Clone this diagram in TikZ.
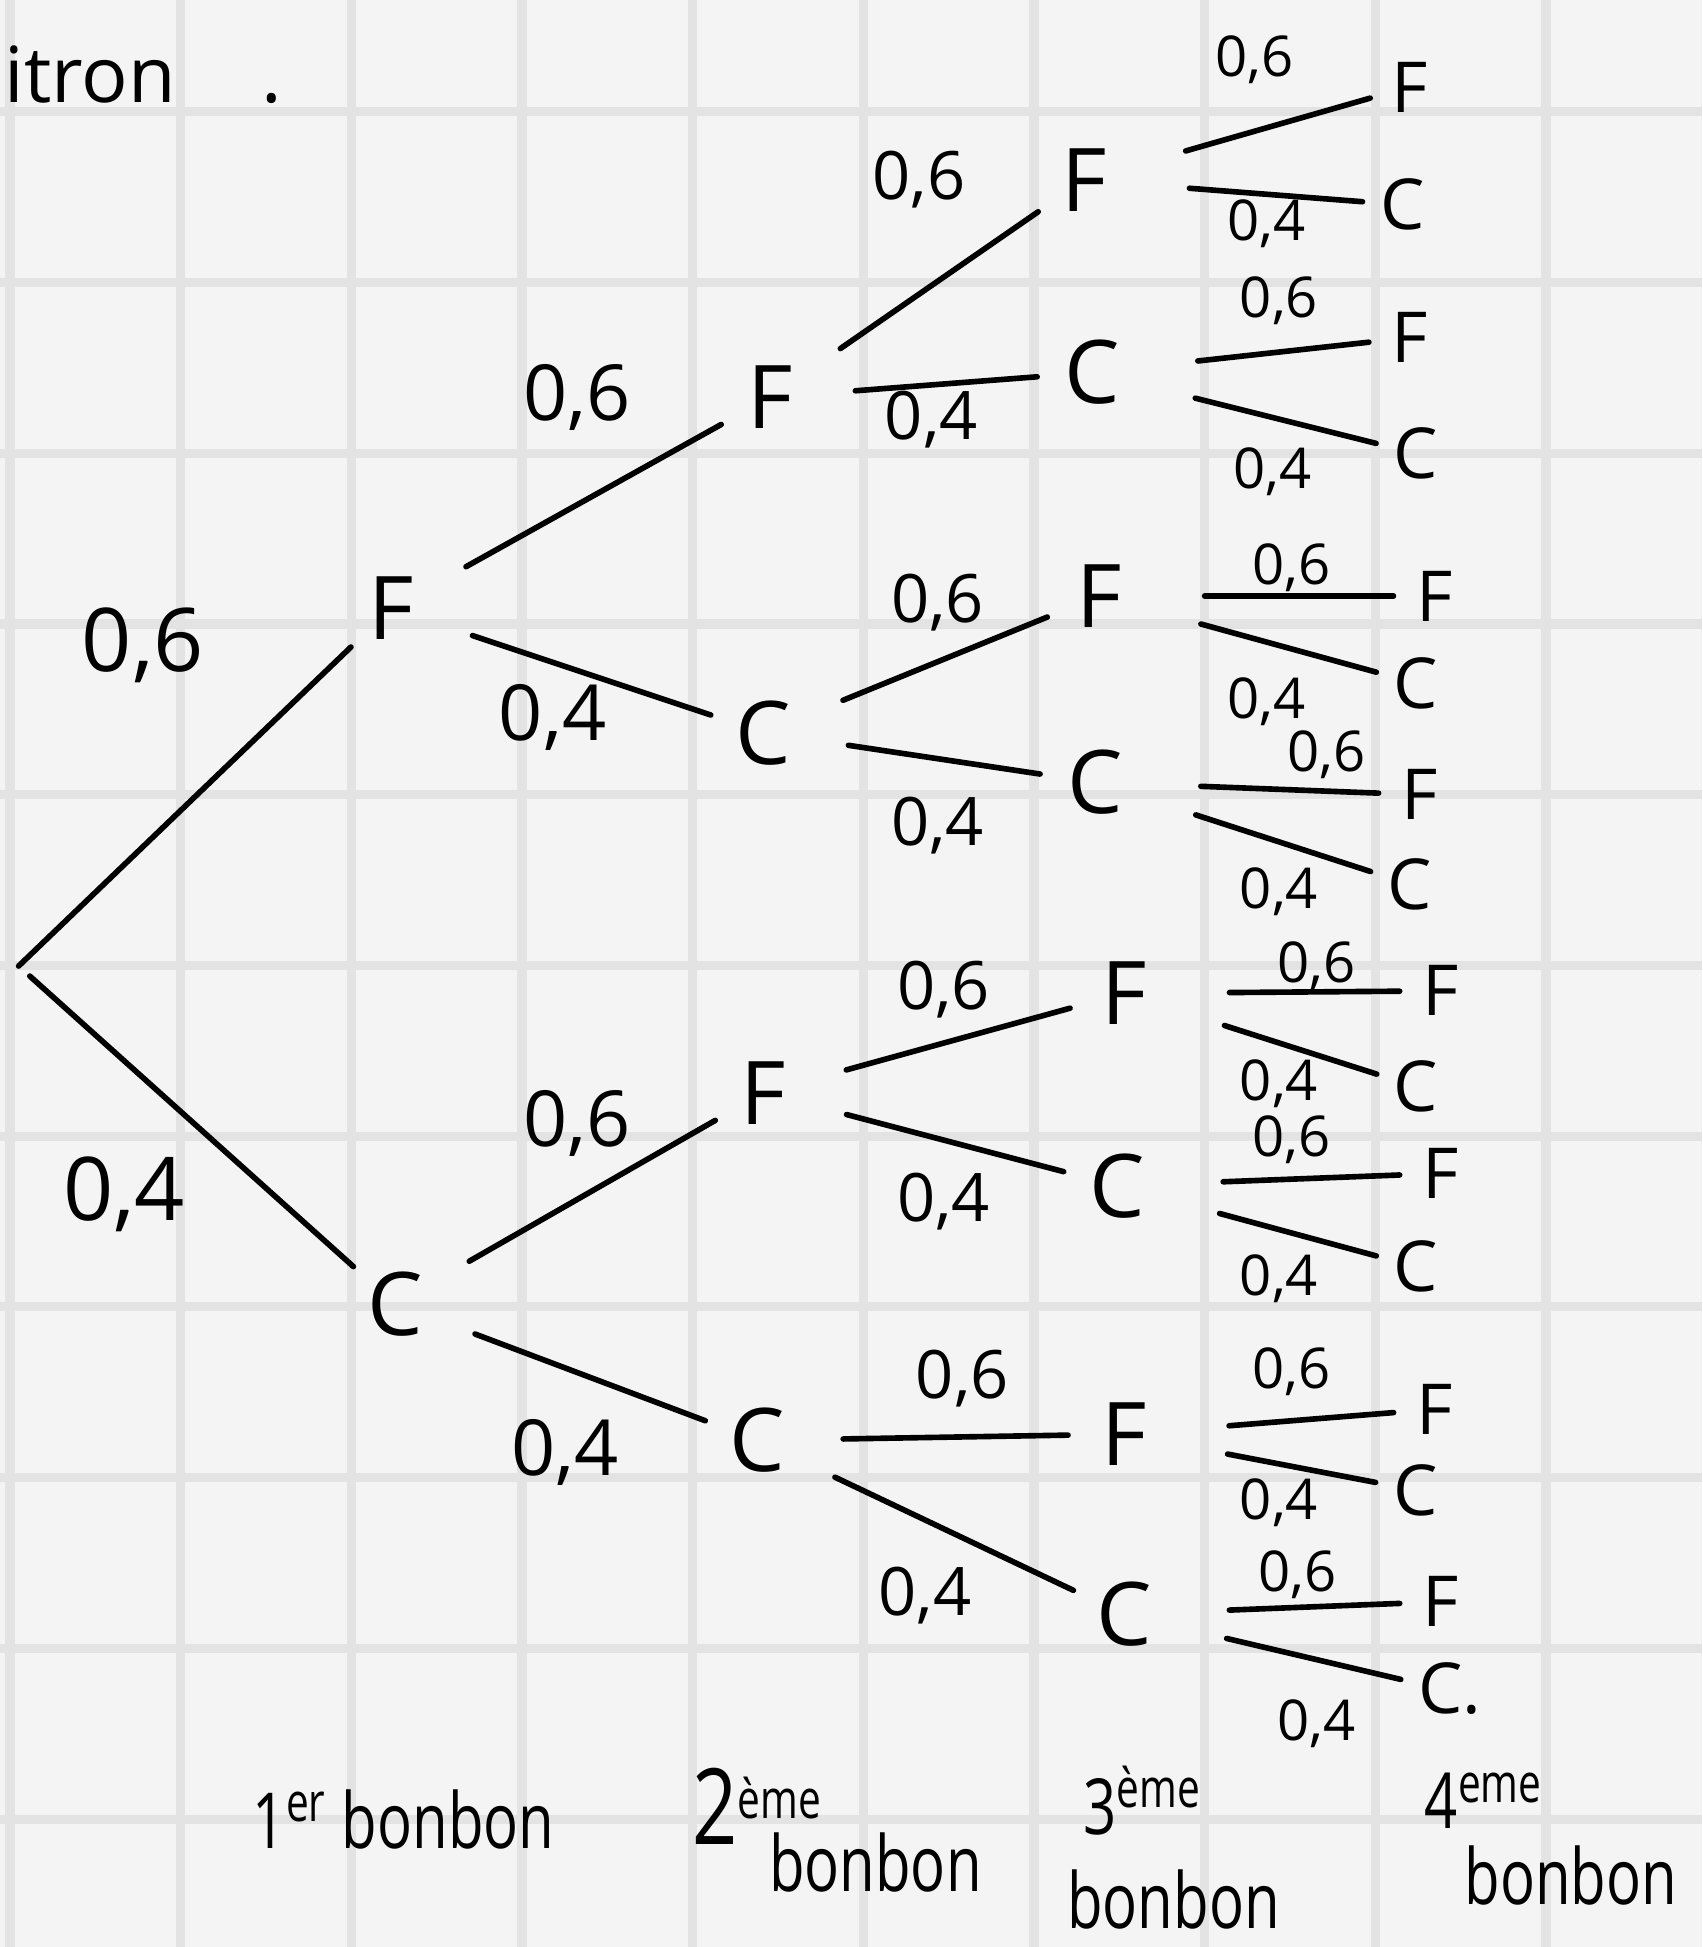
\documentclass[tikz,border=0pt]{standalone}
\usepackage{fontspec}
\setmainfont{Open Sans}
\definecolor{carta}{HTML}{F4F4F4}
\definecolor{quadretti}{HTML}{E3E3E3}
\begin{document}
\begin{tikzpicture}[x=0.12414mm, y=-0.12414mm,
    lett/.style={circle, minimum size=1.1cm, inner sep=0pt, font=\fontsize{25}{25}\selectfont},
    foglia/.style={circle, minimum size=0.8cm, inner sep=0pt, font=\fontsize{20}{20}\selectfont},
    probA/.style={font=\fontsize{25}{25}\selectfont},
    probB/.style={font=\fontsize{22}{22}\selectfont},
    probC/.style={font=\fontsize{19}{19}\selectfont},
    probD/.style={font=\fontsize{16}{16}\selectfont},
    etich/.style={font=\fontsize{22}{24}\selectfont, xscale=0.75},
    ramo/.style={line width=1.6pt, line cap=round, shorten <=3mm},
    ramo4/.style={ramo, shorten <=5mm}]
    % Foglio a quadretti
    \useasboundingbox (0,0) rectangle (1371,1568);
    \fill[carta] (0,0) rectangle (1371,1568);
    \foreach \i in {0,...,9} \draw[quadretti, line width=2.6pt] (8+137.45*\i,0) -- ++(0,1568);
    \foreach \j in {0,...,10} \draw[quadretti, line width=2.6pt] (0,90+137.5*\j) -- ++(1371,0);

    % Titolo tagliato
    \node[anchor=west, font=\fontsize{22}{22}\selectfont] (titolo) at (-6,60) {itron\hspace{1.1em}.};

    % Radice e primo bonbon
    \coordinate (r) at (15,778);
    \node[lett] (f) at (315,490) {F};
    \node[lett] (c) at (318,1050) {C};

    % Secondo bonbon
    \node[lett] (ff) at (620,320) {F};
    \node[lett] (fc) at (615,590) {C};
    \node[lett] (cf) at (615,880) {F};
    \node[lett] (cc) at (610,1160) {C};

    % Terzo bonbon
    \node[lett] (fff) at (873,145) {F};
    \node[lett] (ffc) at (880,300) {C};
    \node[lett] (fcf) at (885,480) {F};
    \node[lett] (fcc) at (882,630) {C};
    \node[lett] (cff) at (905,800) {F};
    \node[lett] (cfc) at (900,955) {C};
    \node[lett] (ccf) at (905,1155) {F};
    \node[lett] (ccc) at (905,1300) {C};

    % Quarto bonbon
    \node[foglia] (ffff) at (1135,70) {F};
    \node[foglia] (fffc) at (1130,165) {C};
    \node[foglia] (ffcf) at (1135,272) {F};
    \node[foglia] (ffcc) at (1140,365) {C};
    \node[foglia] (fcff) at (1155,480) {F};
    \node[foglia] (fcfc) at (1140,550) {C};
    \node[foglia] (fccf) at (1143,640) {F};
    \node[foglia] (fccc) at (1135,712) {C};
    \node[foglia] (cfff) at (1160,798) {F};
    \node[foglia] (cffc) at (1140,875) {C};
    \node[foglia] (cfcf) at (1160,945) {F};
    \node[foglia] (cfcc) at (1140,1020) {C};
    \node[foglia] (ccff) at (1155,1135) {F};
    \node[foglia] (ccfc) at (1140,1200) {C};
    \node[foglia] (cccf) at (1160,1290) {F};
    \node[foglia] (cccc) at (1160,1360) {C\rlap{.}};

    % Rami
    \draw[ramo, shorten <=0pt] (r) -- (f);
    \draw[ramo, shorten <=1.5mm] (r) -- (c);
    \draw[ramo] (f) -- (ff);
    \draw[ramo] (f) -- (fc);
    \draw[ramo] (c) -- (cf);
    \draw[ramo] (c) -- (cc);
    \draw[ramo] (ff) -- (fff);
    \draw[ramo] (ff) -- (ffc);
    \draw[ramo] (fc) -- (fcf);
    \draw[ramo] (fc) -- (fcc);
    \draw[ramo] (cf) -- (cff);
    \draw[ramo] (cf) -- (cfc);
    \draw[ramo] (cc) -- (ccf);
    \draw[ramo] (cc) -- (ccc);
    \draw[ramo4] (fff) -- (ffff);
    \draw[ramo4] (fff) -- (fffc);
    \draw[ramo4] (ffc) -- (ffcf);
    \draw[ramo4] (ffc) -- (ffcc);
    \draw[ramo4] (fcf) -- (fcff);
    \draw[ramo4] (fcf) -- (fcfc);
    \draw[ramo4] (fcc) -- (fccf);
    \draw[ramo4] (fcc) -- (fccc);
    \draw[ramo4] (cff) -- (cfff);
    \draw[ramo4] (cff) -- (cffc);
    \draw[ramo4] (cfc) -- (cfcf);
    \draw[ramo4] (cfc) -- (cfcc);
    \draw[ramo4] (ccf) -- (ccff);
    \draw[ramo4] (ccf) -- (ccfc);
    \draw[ramo4] (ccc) -- (cccf);
    \draw[ramo4] (ccc) -- (cccc);

    % Probabilita
    \node[probA] (pf) at (115,520) {0,6};
    \node[probA] (pc) at (100,962) {0,4};
    \node[probB] (pff) at (465,320) {0,6};
    \node[probB] (pfc) at (445,578) {0,4};
    \node[probB] (pcf) at (465,905) {0,6};
    \node[probB] (pcc) at (455,1170) {0,4};
    \node[probC] (pfff) at (740,145) {0,6};
    \node[probC] (pffc) at (750,338) {0,4};
    \node[probC] (pfcf) at (755,485) {0,6};
    \node[probC] (pfcc) at (755,665) {0,4};
    \node[probC] (pcff) at (760,797) {0,6};
    \node[probC] (pcfc) at (760,968) {0,4};
    \node[probC] (pccf) at (775,1110) {0,6};
    \node[probC] (pccc) at (745,1285) {0,4};
    \node[probD] (pffff) at (1010,48) {0,6};
    \node[probD] (pfffc) at (1020,180) {0,4};
    \node[probD] (pffcf) at (1030,242) {0,6};
    \node[probD] (pffcc) at (1025,380) {0,4};
    \node[probD] (pfcff) at (1040,457) {0,6};
    \node[probD] (pfcfc) at (1020,565) {0,4};
    \node[probD] (pfccf) at (1068,608) {0,6};
    \node[probD] (pfccc) at (1030,718) {0,4};
    \node[probD] (pcfff) at (1060,778) {0,6};
    \node[probD] (pcffc) at (1030,873) {0,4};
    \node[probD] (pcfcf) at (1040,918) {0,6};
    \node[probD] (pcfcc) at (1030,1030) {0,4};
    \node[probD] (pccff) at (1040,1105) {0,6};
    \node[probD] (pccfc) at (1030,1210) {0,4};
    \node[probD] (pcccf) at (1045,1268) {0,6};
    \node[probD] (pcccc) at (1060,1388) {0,4};

    % Etichette dei livelli
    \node[etich] (b1) at (325,1465) {1\textsuperscript{er} bonbon};
    \node[etich] (b2) at (610,1455) {{\fontsize{30}{30}\selectfont 2}\textsuperscript{ème}};
    \node[etich] (b2b) at (705,1500) {bonbon};
    \node[etich] (b3) at (920,1450) {3\textsuperscript{ème}};
    \node[etich] (b3b) at (945,1530) {bonbon};
    \node[etich] (b4) at (1195,1450) {4\textsuperscript{eme}};
    \node[etich] (b4b) at (1265,1510) {bonbon};
\end{tikzpicture}
\end{document}
